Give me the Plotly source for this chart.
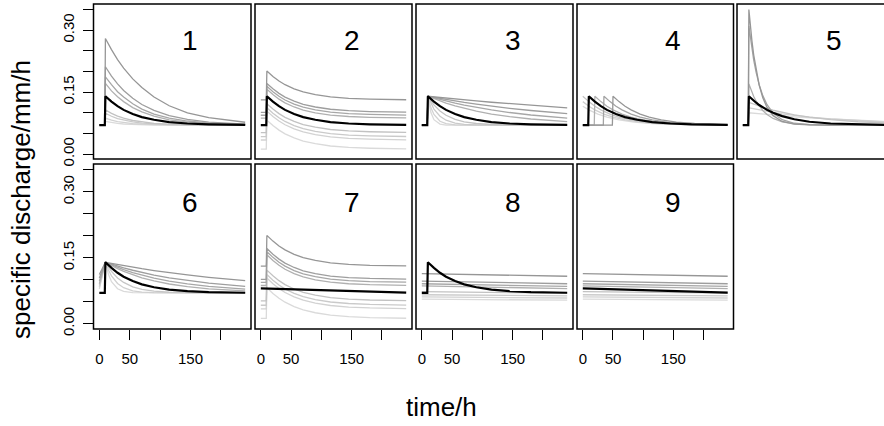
import plotly.graph_objects as go

# ---------------- data ----------------
T = [0, 9, 10, 15, 20, 30, 40, 55, 70, 90, 115, 145, 180, 240]
BLACK = [0.070, 0.070, 0.140, 0.133, 0.127, 0.116, 0.107, 0.097, 0.0895, 0.083, 0.0775, 0.074, 0.072, 0.0705]

# panel 1 (lightest -> darkest)
P1_GRAYS = [
    [0.070, 0.070, 0.079, 0.0774, 0.076, 0.0741, 0.0728, 0.0716, 0.0708, 0.0704, 0.0701, 0.070, 0.070, 0.070],
    [0.070, 0.070, 0.087, 0.0844, 0.0822, 0.0787, 0.0763, 0.0738, 0.0723, 0.0712, 0.0705, 0.070, 0.070, 0.070],
    [0.070, 0.070, 0.099, 0.095, 0.0916, 0.0861, 0.082, 0.0777, 0.075, 0.0728, 0.0713, 0.0705, 0.070, 0.070],
    [0.070, 0.070, 0.107, 0.1024, 0.0985, 0.0919, 0.0868, 0.0813, 0.0776, 0.0745, 0.0723, 0.0711, 0.0704, 0.070],
    [0.070, 0.070, 0.171, 0.162, 0.153, 0.139, 0.127, 0.1125, 0.102, 0.092, 0.083, 0.0775, 0.074, 0.071],
    [0.070, 0.070, 0.187, 0.177, 0.168, 0.151, 0.138, 0.122, 0.109, 0.097, 0.087, 0.080, 0.075, 0.072],
    [0.070, 0.070, 0.2115, 0.200, 0.189, 0.170, 0.154, 0.135, 0.120, 0.106, 0.093, 0.084, 0.0775, 0.0727],
    [0.070, 0.070, 0.280, 0.266, 0.253, 0.229, 0.208, 0.182, 0.161, 0.138, 0.117, 0.100, 0.088, 0.077],
]

# panel 2 / 7 (shifted baselines)
P2_GRAYS = [
    [0.012, 0.012, 0.082, 0.075, 0.069, 0.058, 0.049, 0.039, 0.0315, 0.025, 0.0195, 0.016, 0.014, 0.0125],
    [0.034, 0.034, 0.104, 0.097, 0.091, 0.080, 0.071, 0.061, 0.0535, 0.047, 0.0415, 0.038, 0.036, 0.0345],
    [0.042, 0.042, 0.112, 0.105, 0.099, 0.088, 0.079, 0.069, 0.0615, 0.055, 0.0495, 0.046, 0.044, 0.0425],
    [0.052, 0.052, 0.122, 0.115, 0.109, 0.098, 0.089, 0.079, 0.0715, 0.065, 0.0595, 0.056, 0.054, 0.0525],
    [0.087, 0.087, 0.157, 0.150, 0.144, 0.133, 0.124, 0.114, 0.1065, 0.100, 0.0945, 0.091, 0.089, 0.0875],
    [0.094, 0.094, 0.164, 0.157, 0.151, 0.140, 0.131, 0.121, 0.1135, 0.107, 0.1015, 0.098, 0.096, 0.0945],
    [0.101, 0.101, 0.171, 0.164, 0.158, 0.147, 0.138, 0.128, 0.1205, 0.114, 0.1085, 0.105, 0.103, 0.1015],
    [0.131, 0.131, 0.201, 0.194, 0.188, 0.177, 0.168, 0.158, 0.1505, 0.144, 0.1385, 0.135, 0.133, 0.1315],
]

# panel 3 (same peak, different recession)
P3_GRAYS = [
    [0.070, 0.070, 0.140, 0.1004, 0.0832, 0.0725, 0.0702, 0.070, 0.070, 0.070, 0.070, 0.070, 0.070, 0.070],
    [0.070, 0.070, 0.140, 0.1125, 0.0958, 0.0795, 0.0735, 0.0708, 0.0702, 0.070, 0.070, 0.070, 0.070, 0.070],
    [0.070, 0.070, 0.140, 0.1222, 0.1089, 0.0916, 0.082, 0.075, 0.0721, 0.0706, 0.0701, 0.070, 0.070, 0.070],
    [0.070, 0.070, 0.140, 0.1285, 0.119, 0.1043, 0.094, 0.084, 0.0782, 0.074, 0.0716, 0.0706, 0.0702, 0.070],
    [0.070, 0.070, 0.140, 0.1369, 0.1339, 0.1284, 0.1233, 0.1165, 0.1106, 0.1038, 0.0969, 0.0905, 0.0849, 0.0787],
    [0.070, 0.070, 0.140, 0.1379, 0.1359, 0.132, 0.1282, 0.1231, 0.1184, 0.1128, 0.1068, 0.1006, 0.0946, 0.0871],
    [0.070, 0.070, 0.140, 0.1386, 0.1373, 0.1346, 0.1321, 0.1285, 0.1251, 0.1208, 0.116, 0.1108, 0.1055, 0.0979],
    [0.070, 0.070, 0.140, 0.1392, 0.1385, 0.137, 0.1355, 0.1333, 0.1313, 0.1286, 0.1255, 0.1219, 0.118, 0.112],
]

# panel 4 (shifted event timing)
P4_TIMES = [
    [0, 10, 25, 40, 60, 85, 115, 150, 240],
    [0, 5, 10, 20, 35, 50, 70, 95, 125, 160, 240],
    [0, 5, 10, 20, 30, 45, 60, 80, 105, 135, 170, 240],
    [0, 19, 20, 25, 30, 40, 50, 65, 80, 100, 125, 155, 190, 240],
    [0, 34, 35, 40, 45, 55, 65, 80, 95, 115, 140, 170, 205, 240],
    [0, 49, 50, 55, 60, 70, 80, 95, 110, 130, 155, 185, 220, 240],
]
P4_GRAYS = [
    [0.1157, 0.107, 0.0969, 0.0895, 0.0828, 0.0775, 0.074, 0.0719, 0.0703],
    [0.127, 0.1209, 0.1157, 0.107, 0.0969, 0.0895, 0.0828, 0.0775, 0.074, 0.0719, 0.0703],
    [0.140, 0.133, 0.127, 0.1157, 0.107, 0.0969, 0.0895, 0.0828, 0.0775, 0.074, 0.0719, 0.0704],
    [0.070, 0.070, 0.140, 0.133, 0.127, 0.1157, 0.107, 0.0969, 0.0895, 0.0828, 0.0775, 0.074, 0.0719, 0.0705],
    [0.070, 0.070, 0.140, 0.133, 0.127, 0.1157, 0.107, 0.0969, 0.0895, 0.0828, 0.0775, 0.074, 0.0719, 0.0709],
    [0.070, 0.070, 0.140, 0.133, 0.127, 0.1157, 0.107, 0.0969, 0.0895, 0.0828, 0.0775, 0.074, 0.0719, 0.0713],
]

# panel 5 (finer time grid for sharp peaks)
T5 = [0, 9, 10, 12, 15, 18, 22, 27, 33, 40, 50, 65, 85, 110, 145, 190, 240]
BLACK5 = [0.070, 0.070, 0.140, 0.1371, 0.133, 0.1291, 0.1243, 0.1187, 0.1129, 0.107, 0.0999, 0.0918, 0.0842, 0.0783, 0.074, 0.0719, 0.0705]
P5_GRAYS = [
    [0.070, 0.070, 0.100, 0.0997, 0.0992, 0.0988, 0.0982, 0.0974, 0.0966, 0.0956, 0.0943, 0.0925, 0.0902, 0.0877, 0.0847, 0.0816, 0.0789],
    [0.070, 0.070, 0.112, 0.1114, 0.1104, 0.1095, 0.1083, 0.1068, 0.1052, 0.1033, 0.1009, 0.0975, 0.0936, 0.0895, 0.0849, 0.0805, 0.0771],
    [0.070, 0.070, 0.125, 0.1239, 0.1221, 0.1206, 0.1185, 0.116, 0.1132, 0.1101, 0.1061, 0.1008, 0.095, 0.0892, 0.0833, 0.0783, 0.0749],
    [0.070, 0.070, 0.170, 0.1613, 0.1497, 0.1395, 0.128, 0.1162, 0.1052, 0.0956, 0.0862, 0.0782, 0.0733, 0.0711, 0.0702, 0.070, 0.070],
    [0.070, 0.070, 0.310, 0.286, 0.2545, 0.2275, 0.1976, 0.1681, 0.1415, 0.1195, 0.0992, 0.0833, 0.0746, 0.0712, 0.0702, 0.070, 0.070],
    [0.070, 0.070, 0.350, 0.3171, 0.2748, 0.2398, 0.2023, 0.1668, 0.1365, 0.113, 0.093, 0.079, 0.0726, 0.0705, 0.070, 0.070, 0.070],
]

# panel 6 (earlier rise, different recession)
T6 = [0, 10, 15, 20, 30, 40, 55, 70, 90, 115, 145, 180, 240]
P6_GRAYS = [
    [0.079, 0.140, 0.1125, 0.0958, 0.0795, 0.0735, 0.0708, 0.0702, 0.070, 0.070, 0.070, 0.070, 0.070],
    [0.083, 0.140, 0.1222, 0.1089, 0.0916, 0.082, 0.075, 0.0721, 0.0706, 0.0701, 0.070, 0.070, 0.070],
    [0.087, 0.140, 0.1285, 0.119, 0.1043, 0.094, 0.084, 0.0782, 0.074, 0.0716, 0.0706, 0.0702, 0.070],
    [0.091, 0.140, 0.136, 0.1322, 0.1253, 0.1192, 0.1112, 0.1046, 0.0973, 0.0904, 0.0843, 0.0795, 0.0747],
    [0.097, 0.140, 0.1369, 0.1339, 0.1284, 0.1233, 0.1165, 0.1106, 0.1038, 0.0969, 0.0905, 0.0849, 0.0787],
    [0.104, 0.140, 0.1377, 0.1354, 0.1312, 0.1271, 0.1217, 0.1167, 0.1107, 0.1044, 0.0981, 0.0922, 0.0848],
    [0.112, 0.140, 0.1386, 0.1373, 0.1347, 0.1322, 0.1285, 0.1252, 0.121, 0.1161, 0.111, 0.1056, 0.0981],
]

# panels 7 / 9 black (slowly falling line)
T_FLAT = [0, 60, 120, 180, 240]
BLACK_FLAT = [0.0805, 0.0778, 0.0752, 0.0728, 0.0708]

# panels 8 / 9 gray (nearly flat lines)
T_LINES = [0, 120, 240]
P8_GRAYS = [
    [0.056, 0.0545, 0.0535],
    [0.061, 0.0595, 0.0585],
    [0.066, 0.0645, 0.0635],
    [0.073, 0.071, 0.0695],
    [0.086, 0.083, 0.080],
    [0.091, 0.088, 0.085],
    [0.097, 0.094, 0.091],
    [0.114, 0.111, 0.108],
]

X_TICKS = [0, 50, 100, 150, 200]
X_TICKTEXT = ["0", "50", "", "150", ""]
Y_TICKS = [0.0, 0.05, 0.10, 0.15, 0.20, 0.25, 0.30, 0.35]
Y_TICKTEXT = ["0.00", "", "", "0.15", "", "", "0.30", ""]
PANEL_NAMES = ["1", "2", "3", "4", "5", "6", "7", "8", "9"]

# ---------------- styling / layout ----------------
G8 = ["#dadada", "#d2d2d2", "#cacaca", "#c2c2c2", "#b0b0b0", "#a7a7a7", "#9e9e9e", "#969696"]
G6 = ["#dadada", "#cfcfcf", "#c4c4c4", "#b0b0b0", "#a3a3a3", "#969696"]
G7 = ["#dadada", "#d0d0d0", "#c6c6c6", "#b0b0b0", "#a7a7a7", "#9e9e9e", "#969696"]

panels = {
    1: ([(T, v) for v in P1_GRAYS], G8, (T, BLACK)),
    2: ([(T, v) for v in P2_GRAYS], G8, (T, BLACK)),
    3: ([(T, v) for v in P3_GRAYS], G8, (T, BLACK)),
    4: (list(zip(P4_TIMES, P4_GRAYS)), G6, (T, BLACK)),
    5: ([(T5, v) for v in P5_GRAYS], G6, (T5, BLACK5)),
    6: ([(T6, v) for v in P6_GRAYS], G7, (T, BLACK)),
    7: ([(T, v) for v in P2_GRAYS], G8, (T_FLAT, BLACK_FLAT)),
    8: ([(T_LINES, v) for v in P8_GRAYS], G8, (T, BLACK)),
    9: ([(T_LINES, v) for v in P8_GRAYS], G8, (T_FLAT, BLACK_FLAT)),
}

W, H = 884, 426
COL_PX = [(93.5, 251.0), (255.0, 412.0), (416.0, 573.0), (577.0, 733.5), (737.0, 894.0)]
ROW_PX = [(4.0, 159.0), (164.0, 329.0)]
POS = {1: (0, 0), 2: (0, 1), 3: (0, 2), 4: (0, 3), 5: (0, 4),
       6: (1, 0), 7: (1, 1), 8: (1, 2), 9: (1, 3)}
XR = (-9.6, 249.6)
YR = (-0.012, 0.3635)
FONT = "Liberation Sans, Arial, sans-serif"

fig = go.Figure()
shapes = []
annotations = []
layout_axes = {}

for k in range(1, 10):
    r, c = POS[k]
    l, rr = COL_PX[c]
    t, b = ROW_PX[r]
    vis_r = min(rr, W)
    xmax = XR[0] + (XR[1] - XR[0]) * (vis_r - l) / (rr - l)
    xname = "x" if k == 1 else f"x{k}"
    yname = "y" if k == 1 else f"y{k}"
    grays, cols, blk = panels[k]
    for (tt, vv), col in zip(grays, cols):
        fig.add_trace(go.Scatter(x=tt, y=vv, mode="lines", line=dict(color=col, width=1.3),
                                 xaxis=xname, yaxis=yname, hoverinfo="skip", showlegend=False))
    fig.add_trace(go.Scatter(x=blk[0], y=blk[1], mode="lines", line=dict(color="black", width=2.2),
                             xaxis=xname, yaxis=yname, hoverinfo="skip", showlegend=False))

    bottom = k in (6, 7, 8, 9)
    left = k in (1, 6)
    xa = dict(domain=[l / W, vis_r / W], range=[XR[0], xmax], anchor=yname,
              showgrid=False, zeroline=False, showline=False, automargin=False,
              tickvals=X_TICKS, ticktext=X_TICKTEXT,
              ticks="outside" if bottom else "", ticklen=10, tickwidth=1.3, tickcolor="black",
              showticklabels=bottom, ticklabelstandoff=6,
              tickfont=dict(family=FONT, size=15, color="black"))
    ya = dict(domain=[1 - b / H, 1 - t / H], range=list(YR), anchor=xname,
              showgrid=False, zeroline=False, showline=False, automargin=False,
              tickvals=Y_TICKS, ticktext=Y_TICKTEXT, tickangle=-90,
              ticks="outside" if left else "", ticklen=10, tickwidth=1.3, tickcolor="black",
              showticklabels=left, ticklabelstandoff=3,
              tickfont=dict(family=FONT, size=15, color="black"))
    layout_axes["xaxis" if k == 1 else f"xaxis{k}"] = xa
    layout_axes["yaxis" if k == 1 else f"yaxis{k}"] = ya

    shapes.append(dict(type="rect", xref="paper", yref="paper",
                       x0=l / W, x1=rr / W, y0=1 - b / H, y1=1 - t / H,
                       line=dict(color="black", width=1.5), fillcolor="rgba(0,0,0,0)", layer="above"))
    annotations.append(dict(x=150, y=0.275, xref=xname, yref=yname, text=PANEL_NAMES[k - 1],
                            showarrow=False, font=dict(family=FONT, size=28, color="black"),
                            xanchor="center", yanchor="middle"))

annotations.append(dict(x=441 / W, y=(H - 407) / H, xref="paper", yref="paper", text="time/h",
                        showarrow=False, font=dict(family=FONT, size=26, color="black"),
                        xanchor="center", yanchor="middle"))
annotations.append(dict(x=21 / W, y=(H - 200) / H, xref="paper", yref="paper",
                        text="specific discharge/mm/h", textangle=-90,
                        showarrow=False, font=dict(family=FONT, size=26, color="black"),
                        xanchor="center", yanchor="middle"))

fig.update_layout(width=W, height=H, margin=dict(l=0, r=0, t=0, b=0, pad=0),
                  paper_bgcolor="white", plot_bgcolor="white", showlegend=False,
                  shapes=shapes, annotations=annotations, **layout_axes)

fig.write_html("out.html")
